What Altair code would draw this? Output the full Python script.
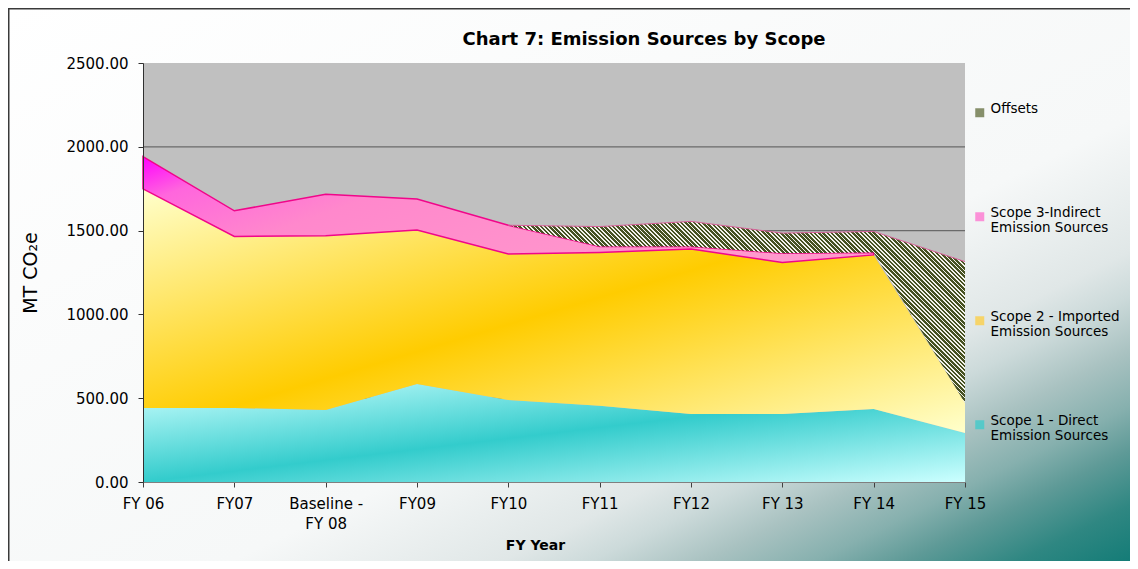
import math
import altair as alt
import pandas as pd

# ---------------- data ----------------
categories = ["FY 06", "FY07", "Baseline - FY 08", "FY09", "FY10",
              "FY11", "FY12", "FY 13", "FY 14", "FY 15"]
scope1 = [442, 442, 430, 585, 490, 455, 406, 406, 436, 292]
scope2 = [1307, 1023, 1039, 919, 870, 914, 984, 904, 919, 179]
scope3 = [193, 153, 248, 184, 172, 36, 15, 55, 14, None]
offsets = [None, None, None, None, 0, 119, 150, 120, 126, 844]
series_names = ["Offsets", "Scope 3-Indirect Emission Sources",
                "Scope 2 - Imported Emission Sources", "Scope 1 - Direct Emission Sources"]
legend_lines = [["Offsets", " "], ["Scope 3-Indirect", "Emission Sources"],
                ["Scope 2 - Imported", "Emission Sources"], ["Scope 1 - Direct", "Emission Sources"]]
y_ticks = [0, 500, 1000, 1500, 2000, 2500]
grid_values = [500, 1000, 1500, 2000]
y_max = 2500

# ---------------- layout ----------------
W, H = 822, 419
PAD = {"left": 135, "top": 55, "right": 165, "bottom": 79}
FONT = "DejaVu Sans"


def z(v):
    return 0 if v is None else v


n = len(categories)
t1 = [z(v) for v in scope1]
t2 = [a + z(b) for a, b in zip(t1, scope2)]
t3 = [a + z(b) for a, b in zip(t2, scope3)]
t4 = [a + z(b) for a, b in zip(t3, offsets)]


def frame(vals, bottoms, tops):
    rows = [{"cat": c, "bottom": b, "top": t}
            for c, v, b, t in zip(categories, vals, bottoms, tops) if v is not None]
    return pd.DataFrame(rows)


df1 = frame(scope1, [0] * n, t1)
df2 = frame(scope2, t1, t2)
df3 = frame(scope3, t2, t3)
df4 = frame(offsets, t3, t4)


def stops(pairs):
    return [{"offset": o, "color": c} for o, c in pairs]


grad1 = {"gradient": "linear", "x1": 0, "y1": 0, "x2": 1, "y2": 1,
         "stops": stops([(0, "#CCFFFF"), (0.5, "#33CCCC"), (1, "#CCFFFF")])}
grad2 = {"gradient": "linear", "x1": 0, "y1": 0, "x2": 1, "y2": 1,
         "stops": stops([(0, "#FFFFCC"), (0.5, "#FFCC00"), (1, "#FFFFCC")])}
grad3 = {"gradient": "linear", "x1": 0, "y1": 0, "x2": 1, "y2": 0.4,
         "stops": stops([(0, "#FF00FF"), (0.15, "#FF66DD"), (0.4, "#FF88CC"), (1, "#FF99CC")])}

# hatch pattern as a striped gradient (stripes at 45 degrees)
hw = W * (len(df4) - 1) / (n - 1)
hh = H * (df4["top"].max() - df4["bottom"].min()) / y_max
k = (hw + hh) / (hw * hw + hh * hh)
L = (hw + hh) / math.sqrt(2)
period = 3.0
nper = int(math.ceil(L / period))
dark, light = "#465222", "#F2F2EA"
hs = []
for i in range(nper):
    a = i * period / L
    m = min(1.0, (i + 0.6) * period / L)
    e = min(1.0, (i + 1) * period / L)
    hs += [(min(a, 1.0), dark), (m, dark), (m, light), (e, light)]
hatch = {"gradient": "linear", "x1": 0, "y1": 1, "x2": k * hw, "y2": 1 - k * hh,
         "stops": stops(hs)}

bg_grad = {"gradient": "linear", "x1": 0, "y1": 0, "x2": 1, "y2": 1,
           "stops": stops([(0, "#FFFFFF"), (0.6, "#F6F8F8"), (0.72, "#E0E7E7"),
                           (0.76, "#CCDADA"), (0.81, "#A9C2C1"), (0.86, "#86B0AE"),
                           (0.9, "#5E9A97"), (0.95, "#2F8782"), (1, "#147C77")])}

x_scale = alt.Scale(type="point", domain=categories, padding=0)
y_scale = alt.Scale(domain=[0, y_max], nice=False, zero=True)

x_axis = alt.Axis(
    labelAngle=0, tickSize=5, labelPadding=9, domainColor="#808080", tickColor="#404040",
    labelFont=FONT, labelFontSize=15, labelColor="black", labelLineHeight=20,
    labelExpr="datum.value == 'Baseline - FY 08' ? ['Baseline -', 'FY 08'] : datum.label",
    title="FY Year", titleFont=FONT, titleFontSize=14, titleFontWeight="bold", titleColor="black",
    titleX=392, titleY=63, titleBaseline="middle", titleAlign="center", grid=False, zindex=1)
y_axis = alt.Axis(
    values=y_ticks, format=".2f", grid=False, tickSize=5, labelPadding=10,
    domainColor="#303030", tickColor="#303030", labelFont=FONT, labelFontSize=15,
    labelColor="black", title="MT CO₂e", titleFont=FONT, titleFontSize=19,
    titleFontWeight="normal", titleColor="black", titleX=-113, titleY=H / 2,
    titleAngle=270, titleAlign="center", titleBaseline="middle", zindex=1)

X = alt.X("cat:N", scale=x_scale, axis=x_axis, sort=categories)


def Y(field):
    return alt.Y(field, scale=y_scale, axis=y_axis)


dummy = alt.Data(values=[{"d": 1}])

background = alt.Chart(dummy).mark_rect(fill=bg_grad, strokeWidth=0).encode(
    x=alt.value(-PAD["left"]), x2=alt.value(W + PAD["right"]),
    y=alt.value(-PAD["top"]), y2=alt.value(H + PAD["bottom"]))
frame_top = alt.Chart(dummy).mark_rule(color="#3A3A3A", strokeWidth=1.5).encode(
    x=alt.value(-PAD["left"]), x2=alt.value(W + PAD["right"]),
    y=alt.value(-PAD["top"] + 0.75))
frame_left = alt.Chart(dummy).mark_rule(color="#3A3A3A", strokeWidth=1.5).encode(
    x=alt.value(-PAD["left"] + 0.75),
    y=alt.value(-PAD["top"]), y2=alt.value(H + PAD["bottom"]))
plot_bg = alt.Chart(dummy).mark_rect(fill="#C0C0C0", strokeWidth=0).encode(
    x=alt.value(0), x2=alt.value(W), y=alt.value(0), y2=alt.value(H))
grid = alt.Chart(pd.DataFrame({"g": grid_values})).mark_rule(
    color="#6A6A6A", strokeWidth=1.2).encode(y=Y("g:Q"))

a1 = alt.Chart(df1).mark_area(fill=grad1).encode(x=X, y=Y("top:Q"), y2="bottom:Q")
a2 = alt.Chart(df2).mark_area(fill=grad2).encode(x=X, y=Y("top:Q"), y2="bottom:Q")
a3 = alt.Chart(df3).mark_area(fill=grad3, stroke="#F0068A", strokeWidth=1.5).encode(
    x=X, y=Y("top:Q"), y2="bottom:Q")
a4 = alt.Chart(df4).mark_area(fill=hatch).encode(x=X, y=Y("top:Q"), y2="bottom:Q")
a4_edge = alt.Chart(df4).mark_line(color="#D8609A", strokeWidth=1).encode(x=X, y=Y("top:Q"))

label_expr = " : ".join(
    f"datum.label == '{name}' ? {lines}" for name, lines in zip(series_names, legend_lines)
) + " : datum.label"

legend_layer = alt.Chart(pd.DataFrame({"s": series_names})).transform_filter("false").mark_square(
    size=81).encode(
    color=alt.Color("s:N", scale=alt.Scale(domain=series_names,
                                            range=["#56622E", "#FF66CC", "#FFCC33", "#33CCCC"]),
                    legend=alt.Legend(
                        orient="none", legendX=830, legendY=43, title=None,
                        labelFont=FONT, labelFontSize=13.5, labelColor="black",
                        labelExpr=label_expr, labelLimit=300, labelOffset=4,
                        labelBaseline="alphabetic",
                        symbolType="square", symbolSize=81, symbolStrokeWidth=0,
                        rowPadding=74, padding=0, zindex=1)))

chart = alt.layer(background, frame_top, frame_left, plot_bg, grid, a1, a2, a3, a4, a4_edge,
                  legend_layer).properties(
    width=W, height=H,
    title=alt.TitleParams("Chart 7: Emission Sources by Scope", font=FONT, fontSize=18,
                          fontWeight="bold", color="black", anchor="middle", frame="group",
                          dx=90, dy=46, offset=4, zindex=1),
    autosize=alt.AutoSizeParams(type="none"),
    padding=PAD,
).configure_view(stroke=None).configure(background="white")

chart.save("out.html", embed_options={"renderer": "svg", "actions": False})
